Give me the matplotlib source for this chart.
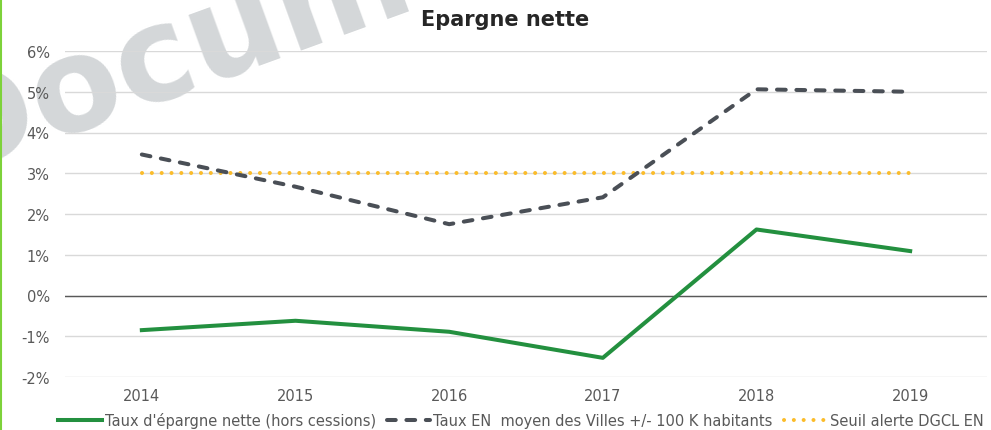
import matplotlib
matplotlib.use("Agg")
import matplotlib.pyplot as plt
from matplotlib.lines import Line2D

years = ["2014", "2015", "2016", "2017", "2018", "2019"]
taux_epargne = [-0.85, -0.62, -0.89, -1.53, 1.62, 1.09]
taux_villes = [3.46, 2.67, 1.75, 2.41, 5.06, 5.00]
seuil_dgcl = [3.0, 3.0, 3.0, 3.0, 3.0, 3.0]

labels = [
    "Taux d'épargne nette (hors cessions)",
    "Taux EN  moyen des Villes +/- 100 K habitants",
    "Seuil alerte DGCL EN",
]

green = "#23903f"
dark = "#4a4f56"
yellow = "#fbbc2a"
grey_txt = "#595959"
lw = 2.9
dash_style = (0, (2.17, 2.65))
dot_style = (0, (0.01, 2.43))

plt.rcParams["font.family"] = ["DejaVu Sans"]

fig = plt.figure(figsize=(9.91, 4.31), dpi=100)
ax = fig.add_axes([65 / 991, 1 - 378 / 431, 922 / 991, (378 - 52) / 431])

x = list(range(len(years)))
ax.plot(x, seuil_dgcl, color=yellow, lw=lw, linestyle=dot_style,
        dash_capstyle="round", zorder=3)
ax.plot(x, taux_villes, color=dark, lw=lw, linestyle=dash_style,
        dash_capstyle="round", zorder=4)
ax.plot(x, taux_epargne, color=green, lw=lw, zorder=5)

ax.set_xlim(-0.5, 5.5)
ax.set_ylim(-2, 6)
ax.set_xticks(x)
ax.set_xticklabels(years)
ax.set_yticks(range(-2, 7))
ax.set_yticklabels([f"{v}%" for v in range(-2, 7)])
ax.tick_params(length=0, labelsize=10.5, colors=grey_txt)
ax.tick_params(axis="y", pad=11)
ax.tick_params(axis="x", pad=8)
ax.grid(axis="y", color="#d9d9d9", lw=1)
ax.axhline(0, color="#595959", lw=1, zorder=2)
for s in ax.spines.values():
    s.set_visible(False)

fig.text(505 / 991, 1 - 20 / 431, "Epargne nette", ha="center", va="center",
         fontsize=15, fontweight="bold", color="#262626")

# filigrane (sous les etiquettes des axes)
ax.text(-56 / 991, 1 - 176 / 431, "Document", transform=fig.transFigure,
        fontsize=94, fontweight="bold", color="#d4d7d9", rotation=20,
        rotation_mode="anchor", ha="left", va="baseline", zorder=1, clip_on=False)

handles = [
    Line2D([], [], color=green, lw=lw),
    Line2D([], [], color=dark, lw=lw, linestyle=dash_style, dash_capstyle="round"),
    Line2D([], [], color=yellow, lw=lw, linestyle=dot_style, dash_capstyle="round"),
]
leg = fig.legend(handles, labels, loc="center", bbox_to_anchor=(521 / 991, 1 - 421 / 431),
                 ncol=3, frameon=False, fontsize=10.5, handlelength=3.0,
                 handletextpad=0.2, columnspacing=0.75, borderpad=0)
for t in leg.get_texts():
    t.set_color(grey_txt)

fig.add_artist(Line2D([0.001, 0.001], [0, 1], color="#7dd23a", lw=1.5,
                      transform=fig.transFigure))

fig.savefig("out.png", dpi=100)
